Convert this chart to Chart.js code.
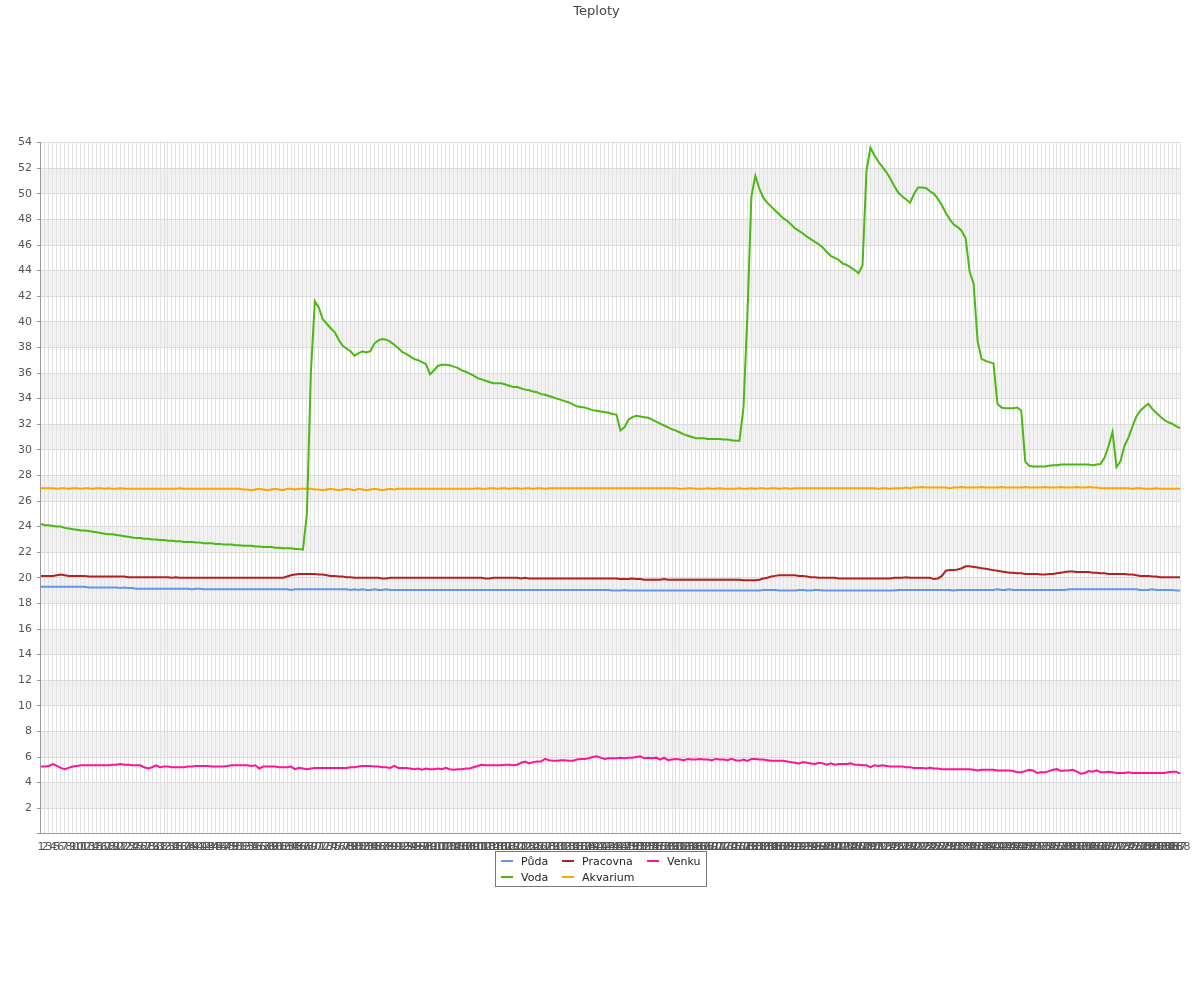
<!DOCTYPE html>
<html>
<head>
<meta charset="utf-8">
<title>Teploty</title>
<script src="https://cdn.jsdelivr.net/npm/chart.js@4.4.1/dist/chart.umd.min.js"></script>
<style>
  html, body { margin: 0; padding: 0; background: #fff; }
  #wrap { position: relative; width: 1200px; height: 1000px; }
  #legend {
    position: absolute; left: 495px; top: 851px; width: 205px; height: 33px;
    border: 1px solid #777; font: 11px "DejaVu Sans", sans-serif; color: #222;
    display: grid; grid-template-columns: 61px 85px auto; grid-auto-rows: 16px;
    padding: 1px 0 0 5px; box-sizing: content-box;
  }
  #legend .item { display: flex; align-items: center; white-space: nowrap; }
  #legend .mark { width: 12px; height: 2px; margin-right: 8px; }
</style>
</head>
<body>
<div id="wrap">
  <canvas id="myChart" width="1200" height="1000"></canvas>
  <div id="legend"></div>
</div>
<script>
// 288 readings over the day
const labels = Array.from({length: 288}, (_, i) => String(i + 1));

const puda = [
  19.3,19.3,19.3,19.3,19.3,19.3,19.3,19.3,19.3,19.3,19.3,19.3,
  19.25,19.25,19.25,19.25,19.25,19.25,19.25,19.25,19.2,19.25,19.2,19.2,
  19.15,19.15,19.15,19.15,19.15,19.15,19.15,19.15,19.15,19.15,19.15,19.15,
  19.15,19.15,19.1,19.15,19.15,19.1,19.1,19.1,19.1,19.1,19.1,19.1,
  19.1,19.1,19.1,19.1,19.1,19.1,19.1,19.1,19.1,19.1,19.1,19.1,
  19.1,19.1,19.1,19.05,19.1,19.1,19.1,19.1,19.1,19.1,19.1,19.1,
  19.1,19.1,19.1,19.1,19.1,19.1,19.05,19.1,19.05,19.1,19.05,19.05,
  19.1,19.05,19.05,19.1,19.05,19.05,19.05,19.05,19.05,19.05,19.05,19.05,
  19.05,19.05,19.05,19.05,19.05,19.05,19.05,19.05,19.05,19.05,19.05,19.05,
  19.05,19.05,19.05,19.05,19.05,19.05,19.05,19.05,19.05,19.05,19.05,19.05,
  19.05,19.05,19.05,19.05,19.05,19.05,19.05,19.05,19.05,19.05,19.05,19.05,
  19.05,19.05,19.05,19.05,19.05,19.05,19.05,19.05,19.05,19.05,19.05,19.05,
  19.0,19.0,19.0,19.05,19.0,19.0,19.0,19.0,19.0,19.0,19.0,19.0,
  19.0,19.0,19.0,19.0,19.0,19.0,19.0,19.0,19.0,19.0,19.0,19.0,
  19.0,19.0,19.0,19.0,19.0,19.0,19.0,19.0,19.0,19.0,19.0,19.0,
  19.0,19.0,19.05,19.05,19.05,19.05,19.0,19.0,19.0,19.0,19.0,19.05,
  19.05,19.0,19.0,19.05,19.05,19.0,19.0,19.0,19.0,19.0,19.0,19.0,
  19.0,19.0,19.0,19.0,19.0,19.0,19.0,19.0,19.0,19.0,19.0,19.0,
  19.05,19.05,19.05,19.05,19.05,19.05,19.05,19.05,19.05,19.05,19.05,19.05,
  19.05,19.05,19.0,19.05,19.05,19.05,19.05,19.05,19.05,19.05,19.05,19.05,
  19.05,19.1,19.05,19.05,19.1,19.05,19.05,19.05,19.05,19.05,19.05,19.05,
  19.05,19.05,19.05,19.05,19.05,19.05,19.05,19.1,19.1,19.1,19.1,19.1,
  19.1,19.1,19.1,19.1,19.1,19.1,19.1,19.1,19.1,19.1,19.1,19.1,
  19.1,19.05,19.05,19.05,19.1,19.05,19.05,19.05,19.05,19.05,19.0,19.0
];

const voda = [
  24.2,24.1,24.1,24.05,24.0,24.0,23.9,23.85,23.8,23.75,23.7,23.7,
  23.65,23.6,23.55,23.5,23.45,23.4,23.4,23.35,23.3,23.25,23.2,23.15,
  23.1,23.1,23.05,23.05,23.0,23.0,22.95,22.95,22.9,22.9,22.85,22.85,
  22.8,22.8,22.8,22.75,22.75,22.7,22.7,22.7,22.65,22.65,22.6,22.6,
  22.6,22.55,22.55,22.5,22.5,22.5,22.45,22.45,22.4,22.4,22.4,22.35,
  22.35,22.3,22.3,22.3,22.25,22.25,22.2,25.0,36.0,41.6,41.1,40.2,
  39.85,39.5,39.2,38.6,38.15,37.9,37.7,37.35,37.55,37.7,37.6,37.7,
  38.3,38.55,38.65,38.6,38.45,38.2,37.95,37.65,37.5,37.3,37.1,37.0,
  36.85,36.7,35.9,36.2,36.55,36.65,36.65,36.6,36.5,36.4,36.2,36.1,
  35.95,35.8,35.6,35.5,35.4,35.3,35.2,35.2,35.2,35.1,35.0,34.9,
  34.9,34.8,34.7,34.65,34.55,34.5,34.35,34.3,34.2,34.1,34.0,33.9,
  33.8,33.7,33.55,33.4,33.35,33.3,33.2,33.1,33.05,33.0,32.95,32.9,
  32.8,32.75,31.5,31.75,32.35,32.55,32.65,32.6,32.55,32.5,32.35,32.2,
  32.05,31.9,31.75,31.6,31.5,31.35,31.2,31.1,31.0,30.9,30.9,30.9,
  30.85,30.85,30.85,30.85,30.8,30.8,30.75,30.7,30.7,33.3,40.5,49.8,
  51.4,50.4,49.7,49.3,49.0,48.7,48.4,48.1,47.9,47.6,47.3,47.1,
  46.9,46.65,46.45,46.25,46.05,45.8,45.45,45.15,45.0,44.85,44.55,44.45,
  44.25,44.05,43.8,44.4,51.8,53.6,53.0,52.5,52.1,51.7,51.2,50.6,
  50.1,49.8,49.55,49.3,50.0,50.5,50.5,50.45,50.2,50.0,49.6,49.1,
  48.5,48.0,47.6,47.4,47.1,46.5,43.9,42.95,38.5,37.1,36.95,36.85,
  36.75,33.6,33.3,33.25,33.25,33.25,33.3,33.05,29.1,28.75,28.7,28.7,
  28.7,28.7,28.75,28.8,28.8,28.85,28.85,28.85,28.85,28.85,28.85,28.85,
  28.85,28.8,28.85,28.9,29.4,30.3,31.4,28.65,29.1,30.3,30.95,31.8,
  32.6,33.05,33.35,33.6,33.2,32.9,32.6,32.35,32.15,32.05,31.85,31.7
];

const pracovna = [
  20.15,20.15,20.15,20.15,20.2,20.25,20.2,20.15,20.15,20.15,20.15,20.15,
  20.1,20.1,20.1,20.1,20.1,20.1,20.1,20.1,20.1,20.1,20.05,20.05,
  20.05,20.05,20.05,20.05,20.05,20.05,20.05,20.05,20.05,20.0,20.05,20.0,
  20.0,20.0,20.0,20.0,20.0,20.0,20.0,20.0,20.0,20.0,20.0,20.0,
  20.0,20.0,20.0,20.0,20.0,20.0,20.0,20.0,20.0,20.0,20.0,20.0,
  20.0,20.0,20.1,20.2,20.25,20.3,20.3,20.3,20.3,20.3,20.25,20.25,
  20.2,20.15,20.15,20.1,20.1,20.05,20.05,20.0,20.0,20.0,20.0,20.0,
  20.0,20.0,19.95,19.95,20.0,20.0,20.0,20.0,20.0,20.0,20.0,20.0,
  20.0,20.0,20.0,20.0,20.0,20.0,20.0,20.0,20.0,20.0,20.0,20.0,
  20.0,20.0,20.0,20.0,19.95,19.95,20.0,20.0,20.0,20.0,20.0,20.0,
  20.0,19.95,20.0,19.95,19.95,19.95,19.95,19.95,19.95,19.95,19.95,19.95,
  19.95,19.95,19.95,19.95,19.95,19.95,19.95,19.95,19.95,19.95,19.95,19.95,
  19.95,19.95,19.9,19.9,19.9,19.95,19.9,19.9,19.85,19.85,19.85,19.85,
  19.85,19.9,19.85,19.85,19.85,19.85,19.85,19.85,19.85,19.85,19.85,19.85,
  19.85,19.85,19.85,19.85,19.85,19.85,19.85,19.85,19.85,19.8,19.8,19.8,
  19.8,19.85,19.95,20.0,20.1,20.15,20.2,20.2,20.2,20.2,20.2,20.15,
  20.15,20.1,20.05,20.05,20.0,20.0,20.0,20.0,20.0,19.95,19.95,19.95,
  19.95,19.95,19.95,19.95,19.95,19.95,19.95,19.95,19.95,19.95,19.95,20.0,
  20.0,20.0,20.05,20.0,20.0,20.0,20.0,20.0,20.0,19.9,19.95,20.15,
  20.55,20.6,20.6,20.65,20.75,20.9,20.9,20.85,20.8,20.75,20.7,20.65,
  20.6,20.55,20.5,20.45,20.4,20.4,20.35,20.35,20.3,20.3,20.3,20.3,
  20.25,20.25,20.3,20.3,20.35,20.4,20.45,20.5,20.5,20.45,20.45,20.45,
  20.45,20.4,20.4,20.35,20.35,20.3,20.3,20.3,20.3,20.3,20.25,20.25,
  20.2,20.15,20.15,20.15,20.1,20.1,20.05,20.05,20.05,20.05,20.05,20.05
];

const akvarium = [
  27.0,27.0,27.0,27.0,26.95,27.0,27.0,26.95,27.0,27.0,26.95,27.0,
  27.0,26.95,27.0,27.0,26.95,27.0,26.95,26.95,27.0,26.95,26.95,26.95,
  26.95,26.95,26.95,26.95,26.95,26.95,26.95,26.95,26.95,26.95,26.95,27.0,
  26.95,26.95,26.95,26.95,26.95,26.95,26.95,26.95,26.95,26.95,26.95,26.95,
  26.95,26.95,26.95,26.9,26.9,26.85,26.9,26.95,26.9,26.85,26.9,26.95,
  26.9,26.85,26.95,26.95,26.9,26.95,26.95,26.95,26.95,26.9,26.9,26.85,
  26.9,26.95,26.9,26.85,26.9,26.95,26.9,26.85,26.95,26.9,26.85,26.9,
  26.95,26.9,26.85,26.9,26.95,26.9,26.95,26.95,26.95,26.95,26.95,26.95,
  26.95,26.95,26.95,26.95,26.95,26.95,26.95,26.95,26.95,26.95,26.95,26.95,
  26.95,26.95,27.0,26.95,26.95,27.0,27.0,26.95,27.0,27.0,26.95,27.0,
  27.0,26.95,27.0,27.0,26.95,27.0,27.0,26.95,27.0,27.0,27.0,27.0,
  27.0,27.0,27.0,27.0,27.0,27.0,27.0,27.0,27.0,27.0,27.0,27.0,
  27.0,27.0,27.0,27.0,27.0,27.0,27.0,27.0,27.0,27.0,27.0,27.0,
  27.0,27.0,27.0,27.0,27.0,26.95,26.95,27.0,27.0,26.95,26.95,26.95,
  27.0,26.95,26.95,27.0,26.95,26.95,26.95,26.95,27.0,26.95,26.95,27.0,
  26.95,27.0,27.0,26.95,27.0,27.0,26.95,27.0,27.0,26.95,27.0,27.0,
  27.0,27.0,27.0,27.0,27.0,27.0,27.0,27.0,27.0,27.0,27.0,27.0,
  27.0,27.0,27.0,27.0,27.0,27.0,27.0,26.95,27.0,27.0,26.95,27.0,
  27.0,27.0,27.05,27.0,27.05,27.05,27.1,27.05,27.05,27.05,27.05,27.05,
  27.05,27.0,27.05,27.05,27.1,27.05,27.05,27.05,27.05,27.1,27.05,27.05,
  27.05,27.05,27.1,27.05,27.05,27.05,27.05,27.05,27.1,27.05,27.05,27.05,
  27.05,27.1,27.05,27.05,27.05,27.1,27.05,27.05,27.05,27.1,27.05,27.05,
  27.1,27.05,27.05,27.0,27.0,27.0,27.0,27.0,27.0,27.0,27.0,26.95,
  27.0,27.0,26.95,26.95,26.95,27.0,26.95,26.95,26.95,26.95,26.95,26.95
];

const venku = [
  5.25,5.25,5.3,5.45,5.3,5.15,5.05,5.15,5.25,5.3,5.35,5.35,
  5.35,5.35,5.35,5.35,5.35,5.35,5.4,5.4,5.45,5.4,5.4,5.35,
  5.35,5.35,5.2,5.1,5.2,5.35,5.2,5.25,5.25,5.2,5.2,5.2,
  5.2,5.25,5.25,5.3,5.3,5.3,5.3,5.25,5.25,5.25,5.25,5.3,
  5.35,5.35,5.35,5.35,5.35,5.3,5.35,5.1,5.25,5.25,5.25,5.25,
  5.2,5.2,5.2,5.25,5.05,5.15,5.1,5.05,5.1,5.15,5.15,5.15,
  5.15,5.15,5.15,5.15,5.15,5.15,5.2,5.2,5.25,5.3,5.3,5.3,
  5.25,5.25,5.2,5.2,5.15,5.3,5.15,5.15,5.15,5.1,5.05,5.1,
  5.0,5.1,5.05,5.05,5.1,5.05,5.15,5.05,5.0,5.05,5.05,5.1,
  5.1,5.2,5.3,5.4,5.35,5.35,5.35,5.35,5.35,5.4,5.4,5.35,
  5.4,5.55,5.65,5.5,5.6,5.65,5.65,5.85,5.75,5.7,5.7,5.75,
  5.75,5.7,5.7,5.8,5.85,5.85,5.9,6.0,6.05,5.95,5.85,5.9,
  5.9,5.9,5.95,5.9,5.95,5.95,6.0,6.05,5.9,5.95,5.9,5.95,
  5.8,5.95,5.75,5.8,5.85,5.8,5.75,5.85,5.8,5.8,5.85,5.8,
  5.8,5.75,5.85,5.8,5.8,5.75,5.85,5.75,5.7,5.8,5.7,5.85,
  5.85,5.8,5.8,5.75,5.7,5.7,5.7,5.7,5.65,5.6,5.55,5.5,
  5.6,5.55,5.5,5.45,5.55,5.5,5.4,5.5,5.4,5.45,5.45,5.45,
  5.5,5.4,5.4,5.35,5.35,5.2,5.35,5.3,5.35,5.3,5.25,5.25,
  5.25,5.25,5.2,5.2,5.15,5.15,5.15,5.1,5.15,5.1,5.1,5.05,
  5.05,5.05,5.05,5.05,5.05,5.05,5.05,5.0,4.95,5.0,5.0,5.0,
  5.0,4.95,4.95,4.95,4.95,4.9,4.8,4.8,4.9,5.0,4.95,4.75,
  4.8,4.8,4.9,5.0,5.05,4.9,4.95,4.95,5.0,4.85,4.7,4.75,
  4.9,4.85,4.95,4.8,4.8,4.85,4.8,4.75,4.75,4.75,4.8,4.75,
  4.75,4.75,4.75,4.75,4.75,4.75,4.75,4.75,4.8,4.85,4.85,4.7
];

const series = [
  {label: 'Půda', data: puda, color: '#6495ed'},
  {label: 'Voda', data: voda, color: '#4cb814'},
  {label: 'Pracovna', data: pracovna, color: '#b22222'},
  {label: 'Akvarium', data: akvarium, color: '#ffa500'},
  {label: 'Venku', data: venku, color: '#ff1493'}
];

Chart.defaults.font.family = '"DejaVu Sans", sans-serif';
Chart.defaults.color = '#555';

// grey bands 2-4, 6-8, ... behind the grid
const bands = {
  id: 'bands',
  beforeDraw(chart) {
    const {ctx, chartArea, scales} = chart;
    ctx.save();
    ctx.fillStyle = '#f2f2f2';
    for (let v = 2; v < 54; v += 4) {
      const top = scales.y.getPixelForValue(v + 2);
      const bottom = scales.y.getPixelForValue(v);
      ctx.fillRect(chartArea.left, top, chartArea.right - chartArea.left, bottom - top);
    }
    ctx.restore();
  }
};

try {
  const ctx = document.getElementById('myChart').getContext('2d');
  const myChart = new Chart(ctx, {
    type: 'line',
    data: {
      labels: labels,
      datasets: series.map(s => ({
        label: s.label,
        data: s.data,
        borderColor: s.color,
        backgroundColor: s.color,
        borderWidth: 2,
        pointRadius: 0,
        tension: 0
      }))
    },
    options: {
      responsive: false,
      animation: false,
      events: [],
      plugins: {
        legend: {display: false},
        tooltip: {enabled: false},
        title: {
          display: true,
          text: 'Teploty',
          color: '#444',
          font: {size: 13, weight: 'normal'},
          padding: {top: 4, bottom: 123}
        }
      },
      layout: {
        padding: {left: 13, right: 20, bottom: 139}
      },
      scales: {
        x: {
          grid: {color: '#e2e2e2', drawTicks: false},
          border: {color: '#999'},
          ticks: {autoSkip: false, maxRotation: 0, minRotation: 0, padding: 7, font: {size: 11}}
        },
        y: {
          min: 0,
          max: 54,
          grid: {
            color: c => (c.tick.value % 2 === 0 && c.tick.value > 0) ? '#dcdcdc' : 'rgba(0,0,0,0)',
            tickColor: '#999',
            tickLength: 4
          },
          border: {color: '#999'},
          ticks: {
            stepSize: 1,
            padding: 5,
            font: {size: 11},
            callback: v => (v % 2 === 0 && v > 0) ? v : ''
          }
        }
      }
    },
    plugins: [bands]
  });

  const legend = document.getElementById('legend');
  // column-wise order as in the original legend
  ['Půda', 'Pracovna', 'Venku', 'Voda', 'Akvarium'].forEach(name => {
    const s = series.find(x => x.label === name);
    const item = document.createElement('div');
    item.className = 'item';
    item.innerHTML = '<span class="mark" style="background:' + s.color + '"></span>' + s.label;
    legend.appendChild(item);
  });
} catch (error) {
  console.log(error);
}
</script>
</body>
</html>
